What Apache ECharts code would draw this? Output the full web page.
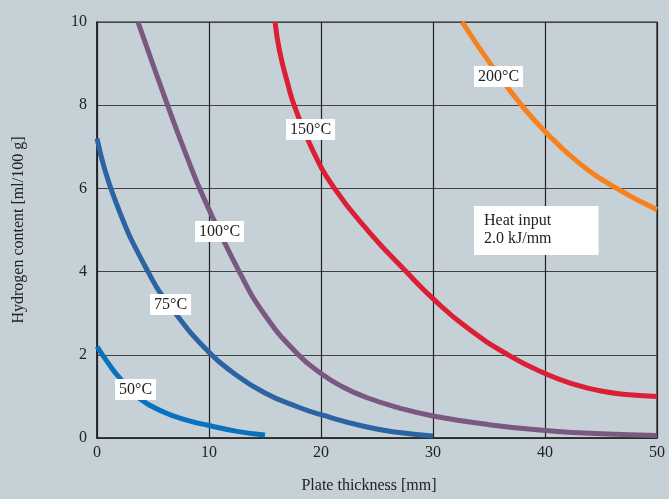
<!DOCTYPE html>
<html>
<head>
<meta charset="utf-8">
<script src="https://cdn.jsdelivr.net/npm/echarts@6/dist/echarts.min.js"></script>
<style>
  html, body { margin: 0; padding: 0; background: #c5d0d7; }
  #main { width: 669px; height: 499px; }
</style>
</head>
<body>
<div id="main"></div>
<script>
// curves: [plate thickness mm, hydrogen ml/100 g]
var c50 = [[0, 2.2], [1, 1.8], [2, 1.45], [3.8, 0.95], [6, 0.62], [8, 0.43], [10, 0.3], [12.5, 0.16], [15, 0.07]];
var c75 = [[0, 7.2], [1.6, 5.73], [4.55, 4], [7, 3.0], [10, 2.06], [12, 1.6], [15, 1.08], [18, 0.74], [20, 0.56], [24, 0.27], [27, 0.13], [30, 0.05]];
var c100 = [[3.66, 10], [6.3, 8], [8.0, 6.78], [9.6, 5.73], [12.7, 4], [15, 2.95], [17.8, 2.05], [20, 1.55], [22, 1.22], [24, 0.98], [27, 0.72], [30, 0.53], [35, 0.32], [40, 0.18], [45, 0.1], [50, 0.06]];
var c150 = [[15.9, 10], [16.3, 9.3], [17, 8.55], [17.6, 8], [19.2, 6.95], [21.2, 6], [24.3, 4.95], [27.6, 4], [30, 3.35], [33, 2.66], [36.7, 2], [40, 1.55], [42.5, 1.3], [45, 1.13], [47.5, 1.04], [50, 1.0]];
var c200 = [[32.6, 10], [35.5, 8.85], [37.9, 8], [40, 7.37], [43, 6.62], [46.4, 6], [50, 5.49]];

var xTicks = [0, 10, 20, 30, 40, 50];
var yTicks = [0, 2, 4, 6, 8, 10];

var serif = '"Liberation Serif", "DejaVu Serif", serif';

function curve(name, data, color) {
    return {
        name: name,
        type: 'line',
        data: data,
        smooth: true,
        showSymbol: false,
        lineStyle: { color: color, width: 5 },
        z: 3
    };
}

function tag(text, x, y) {
    return {
        type: 'text',
        left: x,
        top: y,
        z: 10,
        style: {
            text: text,
            font: '16px ' + serif,
            fill: '#222',
            backgroundColor: '#ffffff',
            padding: [3, 4, 2, 4]
        }
    };
}

var chart = echarts.init(document.getElementById('main'));
var option = {
    backgroundColor: '#c5d0d7',
    animation: false,
    grid: {
        left: 97, right: 12, top: 22, bottom: 60,
        show: true, borderColor: '#222', borderWidth: 1.2
    },
    xAxis: {
        type: 'value',
        min: xTicks[0], max: xTicks[xTicks.length - 1], interval: 10,
        name: 'Plate thickness [mm]',
        nameLocation: 'middle',
        nameGap: 40,
        nameTextStyle: { fontFamily: serif, fontSize: 16, color: '#222', padding: [0, 16, 0, 0] },
        axisLine: { lineStyle: { color: '#222', width: 1.5 } },
        axisTick: { show: false },
        axisLabel: { fontFamily: serif, fontSize: 16, color: '#222', margin: 7 },
        splitLine: { lineStyle: { color: '#222', width: 1.2 } }
    },
    yAxis: {
        type: 'value',
        min: yTicks[0], max: yTicks[yTicks.length - 1], interval: 2,
        name: 'Hydrogen content [ml/100 g]',
        nameLocation: 'middle',
        nameGap: 70,
        nameTextStyle: { fontFamily: serif, fontSize: 16, color: '#222' },
        axisLine: { lineStyle: { color: '#222', width: 1.5 } },
        axisTick: { show: false },
        axisLabel: { fontFamily: serif, fontSize: 16, color: '#222', margin: 10, padding: [0, 0, 10, 0] },
        splitLine: { lineStyle: { color: '#444', width: 1.2 } }
    },
    series: [
        curve('50°C', c50, '#0872bd'),
        curve('75°C', c75, '#2c63a2'),
        curve('100°C', c100, '#7a5880'),
        curve('150°C', c150, '#db1f35'),
        curve('200°C', c200, '#f5821f')
    ],
    graphic: [
        tag('50°C', 115, 379),
        tag('75°C', 150, 294),
        tag('100°C', 195, 221),
        tag('150°C', 286, 119),
        tag('200°C', 474, 66),
        {
            type: 'text',
            left: 474,
            top: 206,
            z: 10,
            style: {
                text: 'Heat input\n2.0 kJ/mm',
                font: '16px ' + serif,
                lineHeight: 18,
                fill: '#222',
                backgroundColor: '#ffffff',
                padding: [6, 47, 7, 10]
            }
        }
    ]
};
chart.setOption(option);
</script>
</body>
</html>
